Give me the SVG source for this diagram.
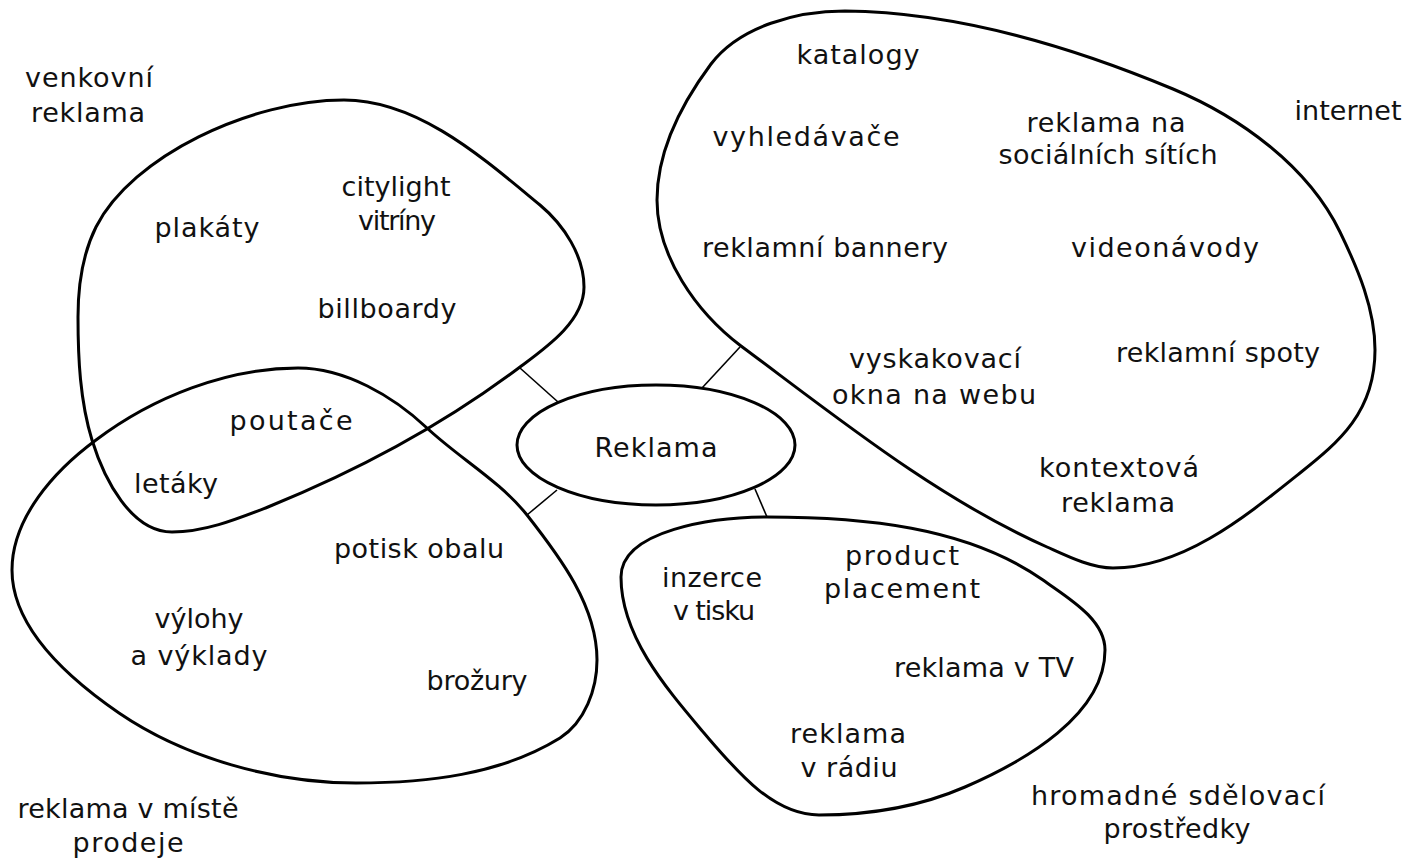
<svg xmlns="http://www.w3.org/2000/svg" width="1416" height="859" viewBox="0 0 1416 859">
<style>
.blob{fill:none;stroke:#000;stroke-width:3}
.conn{stroke:#000;stroke-width:1.6;fill:none}
text{font-family:"DejaVu Sans","Liberation Sans",sans-serif;font-size:27px;fill:#111;text-anchor:middle}
</style>
<rect width="1416" height="859" fill="#fff"/>
<g id="connectors">
<line class="conn" x1="520" y1="368" x2="558" y2="402"/>
<line class="conn" x1="740" y1="347" x2="702" y2="388"/>
<line class="conn" x1="557" y1="490" x2="527" y2="515"/>
<line class="conn" x1="755" y1="489" x2="767" y2="517"/>
</g>
<g id="venkovni">
<path class="blob" d="M344,100 C418,100 483,158 540,205 C564,225 584,256 584,287 C584,321 547,347 520,367 C443,425 357,471 268,507 C237,519 205,532 172,532 C131,532 104,479 92,440 C80,401 78,358 78,317 C78,286 82,255 96,227 C132,156 251,100 344,100 Z"/>
<text x="89" y="87" textLength="128" lengthAdjust="spacing">venkovní</text>
<text x="88" y="122" textLength="114" lengthAdjust="spacing">reklama</text>
<text x="207" y="237" textLength="105" lengthAdjust="spacing">plakáty</text>
<text x="396" y="196" textLength="109" lengthAdjust="spacing">citylight</text>
<text x="397" y="230" textLength="78" lengthAdjust="spacing">vitríny</text>
<text x="387" y="318" textLength="139" lengthAdjust="spacing">billboardy</text>
<text x="291" y="430" textLength="123" lengthAdjust="spacing">poutače</text>
<text x="176" y="493" textLength="84" lengthAdjust="spacing">letáky</text>
</g>
<g id="prodej">
<path class="blob" d="M298,368 C345,368 393,396 427,428 C459,458 500,481 527,515 C560,557 597,606 597,660 C597,689 585,722 560,738 C500,775 426,783 356,783 C274,783 185,758 119,713 C71,680 12,630 12,570 C12,518 54,471 96,440 C153,397 227,368 298,368 Z"/>
<text x="419" y="558" textLength="170" lengthAdjust="spacing">potisk obalu</text>
<text x="199" y="628" textLength="89" lengthAdjust="spacing">výlohy</text>
<text x="199" y="665" textLength="137" lengthAdjust="spacing">a výklady</text>
<text x="477" y="690" textLength="101" lengthAdjust="spacing">brožury</text>
<text x="128" y="818" textLength="221" lengthAdjust="spacing">reklama v místě</text>
<text x="128" y="852" textLength="111" lengthAdjust="spacing">prodeje</text>
</g>
<g id="reklama">
<ellipse class="blob" cx="656" cy="445" rx="139" ry="60"/>
<text x="656" y="457" textLength="123" lengthAdjust="spacing">Reklama</text>
</g>
<g id="internet">
<path class="blob" d="M845,11 C957,12 1070,46 1173,89 C1240,117 1308,166 1340,232 C1358,269 1375,309 1375,350 C1375,412 1339,442 1300,473 C1245,517 1183,568 1113,568 C1091,568 1067,556 1047,547 C937,498 839,419 741,346 C696,312 657,256 657,200 C657,151 682,103 711,64 C740,26 797,11 845,11 Z"/>
<text x="858" y="64" textLength="123" lengthAdjust="spacing">katalogy</text>
<text x="806" y="146" textLength="187" lengthAdjust="spacing">vyhledávače</text>
<text x="1106" y="132" textLength="159" lengthAdjust="spacing">reklama na</text>
<text x="1108" y="164" textLength="219" lengthAdjust="spacing">sociálních sítích</text>
<text x="1348" y="120" textLength="107" lengthAdjust="spacing">internet</text>
<text x="825" y="257" textLength="246" lengthAdjust="spacing">reklamní bannery</text>
<text x="1165" y="257" textLength="188" lengthAdjust="spacing">videonávody</text>
<text x="935" y="368" textLength="172" lengthAdjust="spacing">vyskakovací</text>
<text x="934" y="404" textLength="204" lengthAdjust="spacing">okna na webu</text>
<text x="1218" y="362" textLength="204" lengthAdjust="spacing">reklamní spoty</text>
<text x="1119" y="477" textLength="160" lengthAdjust="spacing">kontextová</text>
<text x="1118" y="512" textLength="114" lengthAdjust="spacing">reklama</text>
</g>
<g id="media">
<path class="blob" d="M767,517 C861,517 966,526 1043,580 C1068,598 1105,619 1105,650 C1105,715 1025,761 965,787 C919,807 869,815 819,815 C772,815 735,769 704,733 C666,688 621,636 621,577 C621,530 714,517 767,517 Z"/>
<text x="712" y="587" textLength="100" lengthAdjust="spacing">inzerce</text>
<text x="714" y="620" textLength="82" lengthAdjust="spacing">v tisku</text>
<text x="902" y="565" textLength="114" lengthAdjust="spacing">product</text>
<text x="902" y="598" textLength="156" lengthAdjust="spacing">placement</text>
<text x="984" y="677" textLength="180" lengthAdjust="spacing">reklama v TV</text>
<text x="848" y="743" textLength="116" lengthAdjust="spacing">reklama</text>
<text x="849" y="777" textLength="97" lengthAdjust="spacing">v rádiu</text>
<text x="1178" y="805" textLength="294" lengthAdjust="spacing">hromadné sdělovací</text>
<text x="1177" y="838" textLength="147" lengthAdjust="spacing">prostředky</text>
</g>
</svg>
